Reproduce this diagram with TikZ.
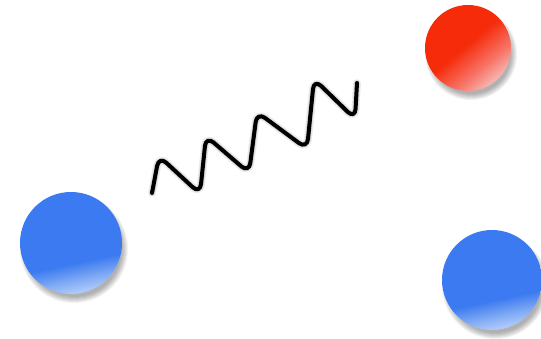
\documentclass[tikz,border=0pt]{standalone}
\usetikzlibrary{calc}
\definecolor{ballblue}{HTML}{3B7BF0}
\definecolor{ballred}{HTML}{F62A0A}
% glossy fills: light part at the bottom (0bp), full colour above
\pgfdeclareverticalshading{bluegloss}{100bp}{rgb(0bp)=(0.74,0.82,0.98); rgb(25bp)=(0.70,0.80,0.98); rgb(31bp)=(0.52,0.68,0.96); rgb(40bp)=(0.23,0.48,0.94); rgb(100bp)=(0.23,0.48,0.94)}
\pgfdeclareverticalshading{redgloss}{100bp}{rgb(0bp)=(0.98,0.80,0.78); rgb(25bp)=(0.97,0.72,0.70); rgb(36bp)=(0.97,0.45,0.40); rgb(52bp)=(0.96,0.17,0.04); rgb(100bp)=(0.96,0.17,0.04)}
\tikzset{
  wave/.style={line width=4pt, line cap=round, line join=round, rounded corners=10pt},
  waveshadow/.style={wave, draw=black, opacity=0.07},
  ballshadow/.style={fill=black, opacity=0.05},
}

\begin{document}
\begin{tikzpicture}[x=1pt, y=-1pt]
    \useasboundingbox (0,0) rectangle (541,339);

    % photon line
    \coordinate (w0) at (152,193);
    \coordinate (w1) at (159,156);
    \coordinate (w2) at (200,194);
    \coordinate (w3) at (206,136);
    \coordinate (w4) at (249,173);
    \coordinate (w5) at (257,112);
    \coordinate (w6) at (307,149);
    \coordinate (w7) at (314,79);
    \coordinate (w8) at (355,119);
    \coordinate (w9) at (357,83);

    \foreach \k in {4,6,8}
        \draw[waveshadow, line width=\k pt, shift={(2,4)}] (w0) -- (w1) -- (w2) -- (w3) -- (w4) -- (w5) -- (w6) -- (w7) -- (w8) -- (w9);
    \draw[wave] (w0) -- (w1) -- (w2) -- (w3) -- (w4) -- (w5) -- (w6) -- (w7) -- (w8) -- (w9);

    % particles
    \foreach \name/\x/\y/\r/\gloss/\ang in {eleft/71/243/51/bluegloss/12, pos/468/48/43/redgloss/40, eright/492/280/50/bluegloss/12} {
        \coordinate (\name) at (\x,\y);
        \foreach \k in {1,...,7}
            \fill[ballshadow] ($(\name)+(3,6)$) circle[radius={(\r-4+\k)*1pt}];
        \shade[shading=\gloss, shading angle=\ang] (\name) circle[radius=\r pt];
    }
\end{tikzpicture}
\end{document}
